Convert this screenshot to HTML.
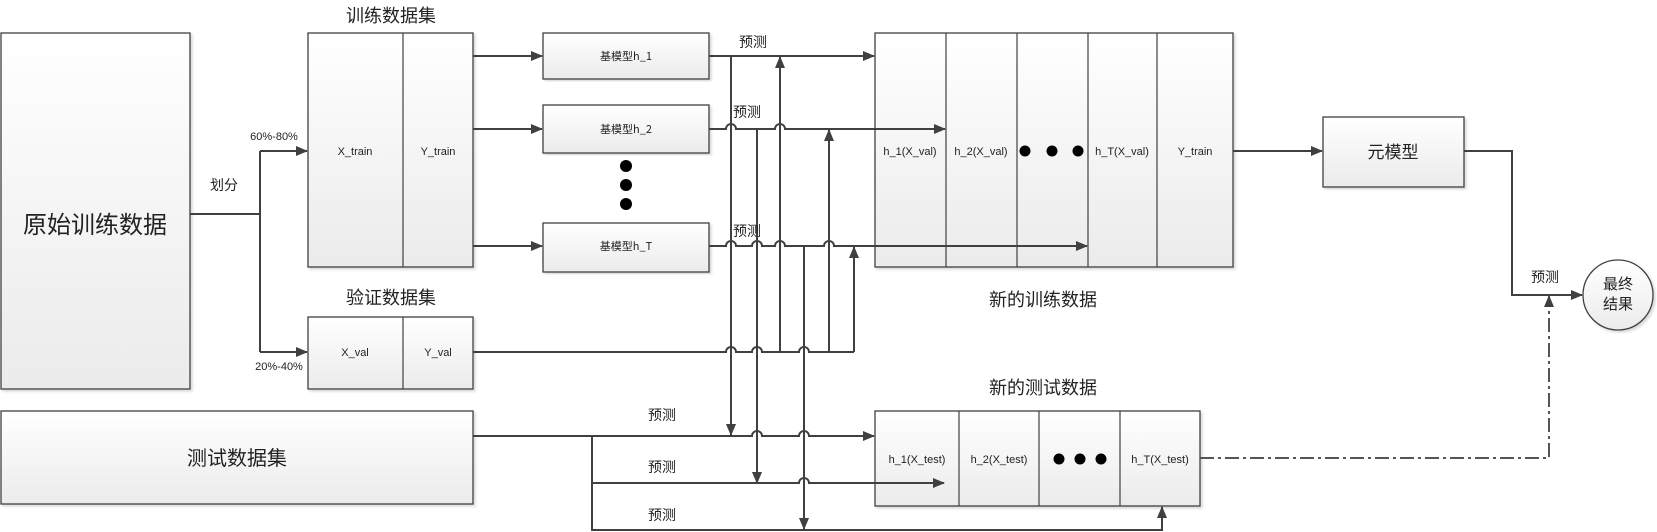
<!DOCTYPE html>
<html><head><meta charset="utf-8"><style>
body{margin:0;background:#fff;width:1657px;height:532px;overflow:hidden}
svg{display:block}
text{font-family:"Liberation Sans","Noto Sans CJK SC",sans-serif;fill:#222}
.cn{font-family:"Noto Sans CJK SC","WenQuanYi Zen Hei",sans-serif}
.b{fill:url(#g);stroke:#404040;stroke-width:1.3;filter:url(#sh)}
.l{fill:none;stroke:#404040;stroke-width:2}
</style></head><body>
<svg width="1657" height="532" viewBox="0 0 1657 532">
<defs>
<linearGradient id="g" x1="0" y1="0" x2="0" y2="1"><stop offset="0" stop-color="#fff"/><stop offset="1" stop-color="#ebebeb"/></linearGradient>
<filter id="sh" x="-5%" y="-5%" width="110%" height="110%"><feDropShadow dx="2" dy="2" stdDeviation="1.2" flood-color="#000" flood-opacity="0.15"/></filter>
<marker id="a" markerWidth="12" markerHeight="10" refX="11" refY="5" orient="auto" markerUnits="userSpaceOnUse"><path d="M0,0 L12,5 L0,10 z" fill="#404040"/></marker>
</defs>

<!-- boxes -->
<rect class="b" x="1" y="33" width="189" height="356"/>
<text class="cn" x="95" y="233" font-size="24" text-anchor="middle">原始训练数据</text>

<rect class="b" x="308" y="33" width="165" height="234"/>
<line x1="403" y1="33" x2="403" y2="267" stroke="#404040" stroke-width="1.2"/>
<text x="355" y="155" font-size="11" text-anchor="middle">X_train</text>
<text x="438" y="155" font-size="11" text-anchor="middle">Y_train</text>
<text class="cn" x="391" y="22" font-size="18" text-anchor="middle">训练数据集</text>

<rect class="b" x="308" y="317" width="165" height="72"/>
<line x1="403" y1="317" x2="403" y2="389" stroke="#404040" stroke-width="1.2"/>
<text x="355" y="356" font-size="11" text-anchor="middle">X_val</text>
<text x="438" y="356" font-size="11" text-anchor="middle">Y_val</text>
<text class="cn" x="391" y="304" font-size="18" text-anchor="middle">验证数据集</text>

<rect class="b" x="1" y="411" width="472" height="93"/>
<text class="cn" x="237" y="465" font-size="20" text-anchor="middle">测试数据集</text>

<rect class="b" x="543" y="33" width="166" height="46"/>
<text x="626" y="60" font-size="11" text-anchor="middle" class="cn">基模型h_1</text>
<rect class="b" x="543" y="105" width="166" height="48"/>
<text x="626" y="133" font-size="11" text-anchor="middle" class="cn">基模型h_2</text>
<rect class="b" x="543" y="223" width="166" height="49"/>
<text x="626" y="250" font-size="11" text-anchor="middle" class="cn">基模型h_T</text>
<circle cx="626" cy="166" r="6" fill="#000"/><circle cx="626" cy="185" r="6" fill="#000"/><circle cx="626" cy="204" r="6" fill="#000"/>

<rect class="b" x="875" y="33" width="358" height="234"/>
<g stroke="#404040" stroke-width="1.2"><line x1="946" y1="33" x2="946" y2="267"/><line x1="1017" y1="33" x2="1017" y2="267"/><line x1="1088" y1="33" x2="1088" y2="267"/><line x1="1157" y1="33" x2="1157" y2="267"/></g>
<g font-size="11" text-anchor="middle"><text x="910" y="155">h_1(X_val)</text><text x="981" y="155">h_2(X_val)</text><text x="1122" y="155">h_T(X_val)</text><text x="1195" y="155">Y_train</text></g>
<circle cx="1025" cy="151" r="5.5" fill="#000"/><circle cx="1052" cy="151" r="5.5" fill="#000"/><circle cx="1078" cy="151" r="5.5" fill="#000"/>
<text class="cn" x="1043" y="306" font-size="18" text-anchor="middle">新的训练数据</text>

<rect class="b" x="875" y="411" width="325" height="95"/>
<g stroke="#404040" stroke-width="1.2"><line x1="959" y1="411" x2="959" y2="506"/><line x1="1039" y1="411" x2="1039" y2="506"/><line x1="1120" y1="411" x2="1120" y2="506"/></g>
<g font-size="11" text-anchor="middle"><text x="917" y="463">h_1(X_test)</text><text x="999" y="463">h_2(X_test)</text><text x="1160" y="463">h_T(X_test)</text></g>
<circle cx="1059" cy="459" r="5.5" fill="#000"/><circle cx="1080" cy="459" r="5.5" fill="#000"/><circle cx="1101" cy="459" r="5.5" fill="#000"/>
<text class="cn" x="1043" y="394" font-size="18" text-anchor="middle">新的测试数据</text>

<rect class="b" x="1323" y="117" width="141" height="70"/>
<text class="cn" x="1393" y="158" font-size="17" text-anchor="middle">元模型</text>
<circle cx="1618" cy="295" r="35" fill="url(#g)" stroke="#404040" stroke-width="1.3" filter="url(#sh)"/>
<text class="cn" x="1618" y="289" font-size="15" text-anchor="middle">最终</text>
<text class="cn" x="1618" y="309" font-size="15" text-anchor="middle">结果</text>

<!-- connectors -->
<path class="l" d="M190 214 L260 214"/>
<path class="l" d="M260 151 L260 352"/>
<path class="l" d="M260 151 L307 151" marker-end="url(#a)"/>
<path class="l" d="M260 352 L307 352" marker-end="url(#a)"/>
<text class="cn" x="224" y="190" font-size="14" text-anchor="middle">划分</text>
<text x="274" y="140" font-size="11" text-anchor="middle">60%-80%</text>
<text x="279" y="370" font-size="11" text-anchor="middle">20%-40%</text>

<path class="l" d="M473 56 L542 56" marker-end="url(#a)"/>
<path class="l" d="M473 129 L542 129" marker-end="url(#a)"/>
<path class="l" d="M473 246 L542 246" marker-end="url(#a)"/>

<path class="l" d="M709 56 L874 56" marker-end="url(#a)"/>
<path class="l" d="M709 129 L726 129 A5 5 0 0 1 736 129 L775 129 A5 5 0 0 1 785 129 L945 129" marker-end="url(#a)"/>
<path class="l" d="M709 246 L726 246 A5 5 0 0 1 736 246 L752 246 A5 5 0 0 1 762 246 L775 246 A5 5 0 0 1 785 246 L824 246 A5 5 0 0 1 834 246 L1087 246" marker-end="url(#a)"/>
<path class="l" d="M473 352 L726 352 A5 5 0 0 1 736 352 L752 352 A5 5 0 0 1 762 352 L799 352 A5 5 0 0 1 809 352 L854 352"/>

<path class="l" d="M731 56 L731 435" marker-end="url(#a)"/>
<path class="l" d="M757 129 L757 483" marker-end="url(#a)"/>
<path class="l" d="M780 352 L780 57" marker-end="url(#a)"/>
<path class="l" d="M804 246 L804 529" marker-end="url(#a)"/>
<path class="l" d="M829 352 L829 130" marker-end="url(#a)"/>
<path class="l" d="M854 352 L854 247" marker-end="url(#a)"/>

<path class="l" d="M473 436 L752 436 A5 5 0 0 1 762 436 L799 436 A5 5 0 0 1 809 436 L874 436" marker-end="url(#a)"/>
<path class="l" d="M592 436 L592 530 L1162 530 L1162 507" marker-end="url(#a)"/>
<path class="l" d="M592 483 L799 483 A5 5 0 0 1 809 483 L944 483" marker-end="url(#a)"/>

<g class="cn" font-size="14" text-anchor="middle">
<text x="753" y="47">预测</text><text x="747" y="117">预测</text><text x="747" y="236">预测</text>
<text x="662" y="420">预测</text><text x="662" y="472">预测</text><text x="662" y="520">预测</text>
<text x="1545" y="282">预测</text>
</g>

<path class="l" d="M1233 151 L1322 151" marker-end="url(#a)"/>
<path class="l" d="M1464 151 L1512 151 L1512 295 L1582 295" marker-end="url(#a)"/>
<path d="M1200 458 L1549 458 L1549 296" fill="none" stroke="#555" stroke-width="2" stroke-dasharray="14 4 3 4" marker-end="url(#a)"/>
</svg>
</body></html>
